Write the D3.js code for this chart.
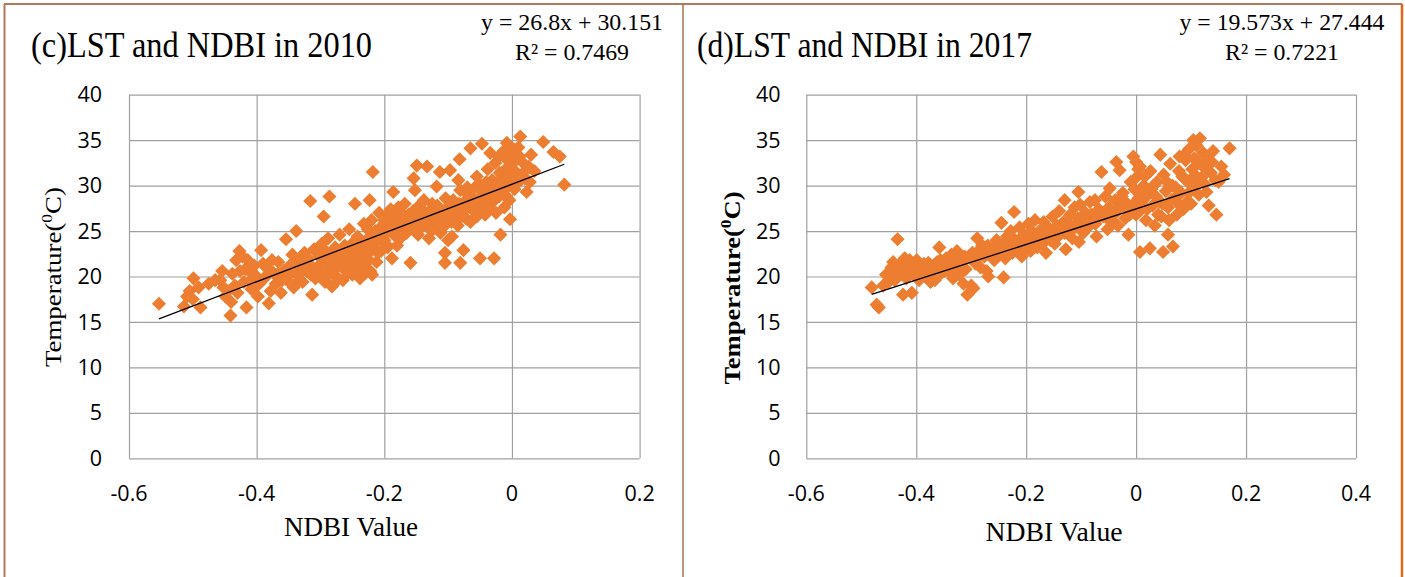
<!DOCTYPE html>
<html>
<head>
<meta charset="utf-8">
<script src="https://cdn.jsdelivr.net/npm/d3@7"></script>
<style>
  body { margin: 0; background: #fff; }
  svg { display: block; }
  .tick-label { font-family: "Open Sans", sans-serif; font-size: 21.5px; fill: #000; }
  .serif { font-family: "Liberation Serif", "Times New Roman", serif; fill: #000; }
</style>
</head>
<body>
<script>
// NDBI (x) and LST (y) pairs
const points2010 = [
  [-0.553,17.0],[-0.514,16.7],[-0.509,17.8],[-0.499,19.8],[-0.491,18.8],[-0.488,16.6],[-0.5,17.5],[-0.505,18.4],
  [-0.475,19.2],[-0.465,19.6],[-0.457,19.6],[-0.449,17.8],[-0.441,15.7],[-0.445,18.4],[-0.44,17.2],[-0.438,20.3],
  [-0.432,21.8],[-0.427,22.8],[-0.422,22.2],[-0.418,20.8],[-0.416,16.6],[-0.412,19.4],[-0.408,18.6],[-0.404,21.2],
  [-0.4,20.0],[-0.398,17.8],[-0.393,22.9],[-0.388,19.8],[-0.385,21.0],[-0.381,17.05],[-0.378,18.4],[-0.374,20.4],
  [-0.37,19.2],[-0.366,21.6],[-0.362,18.2],[-0.358,20.6],[-0.354,24.1],[-0.352,19.6],[-0.348,21.2],[-0.344,22.4],
  [-0.342,18.8],[-0.338,25.0],[-0.336,20.2],[-0.332,21.8],[-0.328,19.4],[-0.325,22.6],[-0.322,20.6],[-0.318,21.4],
  [-0.316,28.3],[-0.313,18.0],[-0.31,23.0],[-0.308,19.8],[-0.305,21.0],[-0.302,22.2],[-0.3,20.4],[-0.298,23.6],
  [-0.295,26.6],[-0.293,19.4],[-0.29,21.6],[-0.288,24.2],[-0.286,28.8],[-0.284,20.8],[-0.282,18.9],[-0.28,22.4],
  [-0.277,23.2],[-0.275,20.0],[-0.272,21.2],[-0.27,24.6],[-0.268,22.0],[-0.265,19.6],[-0.262,23.4],[-0.26,20.8],
  [-0.258,21.8],[-0.255,25.2],[-0.252,22.6],[-0.25,20.2],[-0.248,23.8],[-0.246,28.0],[-0.244,21.4],[-0.242,24.4],
  [-0.24,22.2],[-0.238,19.8],[-0.235,23.0],[-0.232,25.8],[-0.23,21.0],[-0.228,24.0],[-0.225,22.6],[-0.223,28.4],
  [-0.222,20.6],[-0.22,26.2],[-0.219,20.2],[-0.218,31.5],[-0.216,23.6],[-0.214,25.0],[-0.212,21.6],[-0.21,24.6],
  [-0.208,27.0],[-0.205,22.8],[-0.202,25.6],[-0.2,24.0],[-0.198,26.6],[-0.195,23.2],[-0.192,25.2],[-0.19,27.4],
  [-0.188,22.0],[-0.186,29.3],[-0.185,24.6],[-0.183,26.0],[-0.18,25.0],[-0.178,27.6],[-0.175,24.2],[-0.172,26.4],
  [-0.17,25.6],[-0.168,28.0],[-0.165,24.8],[-0.162,26.8],[-0.159,21.5],[-0.158,25.8],[-0.155,27.2],[-0.154,30.8],
  [-0.152,29.5],[-0.15,26.2],[-0.149,32.2],[-0.147,24.6],[-0.145,27.8],[-0.142,25.4],[-0.14,26.6],[-0.138,28.4],
  [-0.135,25.8],[-0.133,32.1],[-0.132,27.0],[-0.13,24.2],[-0.128,26.4],[-0.125,28.0],[-0.122,25.6],[-0.12,27.4],
  [-0.118,29.9],[-0.116,26.2],[-0.113,31.5],[-0.112,24.8],[-0.11,27.2],[-0.108,25.4],[-0.105,22.6],[-0.105,21.5],
  [-0.104,28.6],[-0.102,26.6],[-0.1,24.0],[-0.098,27.8],[-0.097,31.7],[-0.095,26.0],[-0.094,24.4],[-0.092,28.4],
  [-0.09,26.8],[-0.088,27.4],[-0.085,25.6],[-0.084,30.6],[-0.082,32.9],[-0.081,29.5],[-0.081,21.5],[-0.078,27.0],
  [-0.076,22.9],[-0.075,28.2],[-0.072,26.4],[-0.07,27.8],[-0.068,29.0],[-0.065,34.1],[-0.065,26.0],[-0.062,28.6],
  [-0.06,27.2],[-0.058,29.8],[-0.055,31.0],[-0.055,26.6],[-0.052,28.0],[-0.05,30.1],[-0.05,22.0],[-0.048,27.4],
  [-0.047,34.6],[-0.045,29.2],[-0.042,26.8],[-0.04,28.6],[-0.038,31.8],[-0.036,27.6],[-0.034,33.6],[-0.032,29.8],
  [-0.03,28.2],[-0.028,22.0],[-0.026,32.5],[-0.025,27.0],[-0.022,30.4],[-0.02,28.8],[-0.018,24.6],[-0.016,31.2],
  [-0.014,29.4],[-0.012,27.6],[-0.01,33.0],[-0.008,34.7],[-0.006,30.0],[-0.004,28.4],[-0.003,26.3],[0.0,33.6],
  [0.002,31.8],[0.004,29.6],[0.007,31.4],[0.01,34.2],[0.013,35.4],[0.016,32.6],[0.02,30.8],[0.023,29.3],
  [0.026,32.1],[0.03,33.4],[0.035,31.6],[0.049,34.8],[0.065,33.7],[0.075,33.2],[0.082,30.1],
  [-0.426,20.6],[-0.42,19.4],[-0.414,21.8],[-0.406,20.2],[-0.396,19.2],[-0.39,21.4],[-0.383,20.2],[-0.376,21.8],
  [-0.368,20.2],[-0.36,19.6],[-0.346,20.4],[-0.34,21.2],[-0.334,19.6],[-0.327,20.8],[-0.32,22.0],[-0.315,20.2],
  [-0.306,22.6],[-0.299,21.2],[-0.292,22.8],[-0.287,20.2],[-0.281,21.8],[-0.276,19.4],[-0.271,22.8],[-0.266,21.0],
  [-0.261,22.2],[-0.256,20.4],[-0.251,21.6],[-0.247,22.4],[-0.243,20.6],[-0.239,23.4],[-0.236,21.6],[-0.233,22.4],
  [-0.229,20.4],[-0.226,23.6],[-0.224,21.8],[-0.221,22.8],[-0.217,24.6],[-0.213,23.0],[-0.206,25.4],[-0.2,26.2],
  [-0.196,24.8],[-0.191,26.0],[-0.187,25.4],[-0.182,26.8],[-0.177,25.8],[-0.173,27.0],[-0.167,26.2],[-0.163,25.2],
  [-0.157,26.6],[-0.153,25.4],[-0.146,26.0],[-0.141,27.4],[-0.137,26.4],[-0.131,25.6],[-0.127,27.2],[-0.121,26.6],
  [-0.117,27.8],[-0.111,26.0],[-0.107,27.0],[-0.099,26.8],[-0.093,27.6],[-0.089,26.2],[-0.083,28.0],[-0.079,26.6],
  [-0.074,27.4],[-0.069,28.4],[-0.064,27.6],[-0.059,28.2],[-0.054,27.8],[-0.049,28.8],[-0.044,27.8],[-0.039,29.6],
  [-0.035,28.8],[-0.031,30.6],[-0.027,28.6],[-0.023,29.6],[-0.019,31.4],[-0.015,30.4],[-0.011,29.0],[-0.007,31.2],
  [-0.002,32.4],[0.001,30.6],[0.006,32.8],[0.012,33.2],[0.018,31.4],[-0.013,33.8],[-0.021,33.2],[0.003,34.0],
  [-0.452,18.8],[-0.434,19.0],[-0.43,18.2],[-0.454,20.6],[-0.31,20.6],[-0.296,20.0],[-0.262,21.6],[-0.254,23.0],
  [-0.234,20.8],[-0.226,25.2],[-0.21,22.6],[-0.198,23.6],[-0.18,23.4],[-0.144,26.8],[-0.126,25.0],[-0.07,29.8],
  [-0.04,30.4],[-0.01,31.8],[0.008,30.2],[0.028,30.4]
];

const points2017 = [
  [-0.481,18.8],[-0.472,16.9],[-0.468,16.6],[-0.46,19.0],[-0.455,20.2],[-0.45,19.4],[-0.445,21.0],[-0.439,19.6],
  [-0.434,24.1],[-0.43,20.6],[-0.426,21.6],[-0.424,18.0],[-0.421,22.0],[-0.418,19.8],[-0.414,20.8],[-0.41,21.4],
  [-0.408,18.2],[-0.404,20.2],[-0.4,21.0],[-0.399,21.8],[-0.395,19.6],[-0.39,20.6],[-0.386,21.4],[-0.382,20.0],
  [-0.378,21.5],[-0.374,19.4],[-0.37,20.8],[-0.366,19.6],[-0.362,21.6],[-0.358,23.2],[-0.354,20.4],[-0.35,21.2],
  [-0.346,22.0],[-0.342,20.6],[-0.338,21.8],[-0.336,22.4],[-0.333,19.8],[-0.33,21.1],[-0.326,22.8],[-0.322,20.2],
  [-0.318,21.6],[-0.314,19.2],[-0.31,20.8],[-0.307,18.0],[-0.304,22.2],[-0.3,19.0],[-0.296,18.7],[-0.292,21.4],
  [-0.289,24.2],[-0.287,22.6],[-0.283,21.0],[-0.28,23.4],[-0.276,22.2],[-0.272,20.6],[-0.269,20.0],[-0.266,23.1],
  [-0.262,22.8],[-0.258,21.8],[-0.254,24.0],[-0.25,22.4],[-0.247,23.2],[-0.245,25.9],[-0.241,19.9],[-0.238,22.0],
  [-0.235,24.4],[-0.232,23.0],[-0.228,25.0],[-0.225,22.6],[-0.222,27.1],[-0.22,24.0],[-0.216,23.4],[-0.212,25.4],
  [-0.208,22.2],[-0.204,24.6],[-0.2,23.8],[-0.196,25.8],[-0.192,22.8],[-0.188,24.4],[-0.184,26.2],[-0.18,23.2],
  [-0.176,25.0],[-0.172,24.2],[-0.168,26.0],[-0.164,22.6],[-0.16,25.4],[-0.156,24.0],[-0.152,26.6],[-0.148,23.6],
  [-0.144,25.6],[-0.14,27.2],[-0.136,24.8],[-0.132,26.0],[-0.13,28.4],[-0.128,23.0],[-0.124,25.2],[-0.12,26.8],
  [-0.116,24.2],[-0.112,27.6],[-0.108,25.6],[-0.105,29.3],[-0.104,23.8],[-0.102,27.9],[-0.1,26.2],[-0.096,24.8],
  [-0.092,27.0],[-0.088,25.4],[-0.084,28.2],[-0.08,26.0],[-0.075,28.4],[-0.072,24.4],[-0.068,27.4],[-0.063,31.5],
  [-0.06,26.6],[-0.056,28.8],[-0.052,25.2],[-0.048,29.7],[-0.045,27.2],[-0.042,26.0],[-0.038,28.4],[-0.036,32.6],
  [-0.033,25.6],[-0.03,31.7],[-0.028,27.8],[-0.024,29.2],[-0.02,26.4],[-0.016,28.0],[-0.014,24.6],[-0.01,30.4],
  [-0.008,27.2],[-0.005,33.2],[-0.003,29.6],[0.0,26.8],[0.002,31.0],[0.004,28.6],[0.007,32.1],[0.007,22.7],
  [0.01,27.4],[0.014,30.0],[0.018,26.2],[0.022,29.0],[0.025,23.1],[0.026,31.6],[0.03,27.8],[0.034,25.6],
  [0.038,30.4],[0.042,28.2],[0.044,33.4],[0.046,26.6],[0.049,22.7],[0.05,31.2],[0.054,29.4],[0.058,24.6],
  [0.058,27.6],[0.062,32.4],[0.066,30.0],[0.067,23.3],[0.07,28.6],[0.074,26.8],[0.078,31.6],[0.079,33.2],
  [0.082,29.2],[0.086,27.4],[0.09,32.8],[0.094,30.4],[0.098,30.6],[0.1,28.0],[0.104,35.0],[0.106,33.0],
  [0.11,31.0],[0.114,29.0],[0.116,35.2],[0.12,32.2],[0.124,30.2],[0.128,33.2],[0.128,29.3],[0.132,27.8],
  [0.136,31.4],[0.14,33.8],[0.146,26.8],[0.15,30.4],[0.155,32.1],[0.16,31.2],[0.17,34.1],
  [-0.448,20.4],[-0.442,21.6],[-0.436,20.0],[-0.428,21.0],[-0.42,20.4],[-0.412,21.8],[-0.402,20.6],[-0.392,21.2],
  [-0.384,20.4],[-0.376,20.6],[-0.368,21.2],[-0.356,21.8],[-0.348,20.6],[-0.34,21.4],[-0.328,21.8],[-0.32,21.0],
  [-0.312,22.2],[-0.298,22.6],[-0.29,22.0],[-0.284,23.0],[-0.278,22.4],[-0.27,23.4],[-0.264,22.2],[-0.256,23.2],
  [-0.248,22.8],[-0.24,23.6],[-0.233,22.4],[-0.226,24.0],[-0.218,23.2],[-0.21,24.2],[-0.202,22.8],[-0.194,24.0],
  [-0.186,23.4],[-0.178,24.6],[-0.17,23.6],[-0.162,24.8],[-0.154,24.4],[-0.146,25.0],[-0.138,25.6],[-0.13,24.8],
  [-0.122,25.8],[-0.114,25.4],[-0.106,26.4],[-0.098,25.4],[-0.09,26.4],[-0.082,26.8],[-0.074,25.8],[-0.066,27.0],
  [-0.058,26.8],[-0.05,27.6],[-0.04,26.8],[-0.032,27.4],[-0.022,27.8],[-0.012,26.8],[-0.004,28.0],[0.006,29.4],
  [0.012,28.4],[0.02,27.4],[0.028,29.6],[0.036,28.8],[0.04,26.8],[0.048,28.0],[0.056,30.4],[0.064,28.4],
  [0.072,29.8],[0.08,27.8],[0.088,30.8],[0.096,29.2],[0.102,31.8],[0.108,30.0],[0.112,32.6],[0.118,30.8],
  [0.122,33.6],[0.13,31.6],[0.138,32.6],[0.144,30.6],[0.096,34.0],[0.11,34.4],[0.088,33.4],[0.0,32.6],[0.004,31.8],
  [-0.214,23.6],[-0.19,25.0],[-0.166,24.0],[-0.142,24.4],[-0.118,25.0],[-0.094,25.8],[-0.07,26.4],[-0.046,26.0],
  [-0.026,28.8],[0.016,31.0],[0.032,30.0],[0.06,26.2],[0.084,31.0],[0.092,28.2]
];

const xTicks2010 = [-0.6, -0.4, -0.2, 0, 0.2];
const xTicks2017 = [-0.6, -0.4, -0.2, 0, 0.2, 0.4];
const yTicks = [0, 5, 10, 15, 20, 25, 30, 35, 40];

const titles = ["(c)LST and NDBI in 2010", "(d)LST and NDBI in 2017"];
const equations = ["y = 26.8x + 30.151", "y = 19.573x + 27.444"];
const rSquared = ["R² = 0.7469", "R² = 0.7221"];
const slopes = [26.8, 19.573];
const intercepts = [30.151, 27.444];

const W = 1405, H = 577;

const svg = d3.select("body").append("svg")
    .attr("width", W)
    .attr("height", H);

svg.append("rect").attr("width", W).attr("height", H).attr("fill", "#fff");

// frame round the two panels
svg.append("line").attr("x1", 4).attr("y1", 4).attr("x2", 1402).attr("y2", 4)
    .attr("stroke", "#b07a5c").attr("stroke-width", 2);
svg.append("line").attr("x1", 4.5).attr("y1", 4).attr("x2", 4.5).attr("y2", H)
    .attr("stroke", "#b07a5c").attr("stroke-width", 2);
svg.append("line").attr("x1", 683).attr("y1", 4).attr("x2", 683).attr("y2", H)
    .attr("stroke", "#b0704c").attr("stroke-width", 1.5);
svg.append("line").attr("x1", 1402).attr("y1", 4).attr("x2", 1402).attr("y2", H)
    .attr("stroke", "#e0681c").attr("stroke-width", 2.5);

function drawPanel(p) {
  const xScale = d3.scaleLinear().domain([p.xTicks[0], p.xTicks[p.xTicks.length - 1]]).range([p.left, p.right]);
  const yScale = d3.scaleLinear().domain([0, 40]).range([458.3, 94.7]);
  const g = svg.append("g");

  // gridlines
  g.append("g")
    .attr("transform", "translate(0,458.3)")
    .call(d3.axisBottom(xScale).tickValues(p.xTicks).tickSize(-(458.3 - 94.7)).tickFormat(""))
    .call(s => s.select(".domain").remove())
    .call(s => s.selectAll("line").attr("stroke", "#a0a0a0").attr("stroke-width", 1.2));
  g.append("g")
    .attr("transform", "translate(" + p.left + ",0)")
    .call(d3.axisLeft(yScale).tickValues(yTicks).tickSize(-(p.right - p.left)).tickFormat(""))
    .call(s => s.select(".domain").remove())
    .call(s => s.selectAll("line").attr("stroke", "#a0a0a0").attr("stroke-width", 1.2));

  // tick labels (plain hyphen for negatives, as in the source)
  g.selectAll(".ylab").data(yTicks).enter().append("text")
    .attr("class", "tick-label")
    .attr("x", p.yLabelX)
    .attr("y", d => yScale(d) + 7.6)
    .attr("text-anchor", "end")
    .text(d => d);
  g.selectAll(".xlab").data(p.xTicks).enter().append("text")
    .attr("class", "tick-label")
    .attr("x", d => xScale(d))
    .attr("y", 501)
    .attr("text-anchor", "middle")
    .text(d => String(+d.toFixed(1)));

  // points
  const diamond = d3.symbol().type(d3.symbolSquare).size(100);
  g.selectAll(".dot").data(p.points).enter().append("path")
    .attr("d", diamond)
    .attr("fill", "#ed7d31")
    .attr("transform", d => "translate(" + xScale(d[0]) + "," + yScale(d[1]) + ") rotate(45)");

  // linear trendline over the data range
  const ext = d3.extent(p.points, d => d[0]);
  const line = d3.line().x(d => xScale(d)).y(d => yScale(p.slope * d + p.intercept));
  g.append("path").datum(ext)
    .attr("d", line)
    .attr("fill", "none")
    .attr("stroke", "#000")
    .attr("stroke-width", 1.3);

  // titles and labels
  g.append("text").attr("class", "serif")
    .attr("x", p.titleX).attr("y", 57)
    .attr("font-size", 35)
    .attr("textLength", p.titleLen).attr("lengthAdjust", "spacingAndGlyphs")
    .text(p.title);
  g.append("text").attr("class", "serif")
    .attr("x", p.eqX).attr("y", 29.5)
    .attr("font-size", 22.5).attr("text-anchor", "middle")
    .attr("textLength", p.eqLen).attr("lengthAdjust", "spacingAndGlyphs")
    .text(p.equation);
  g.append("text").attr("class", "serif")
    .attr("x", p.eqX).attr("y", 59.5)
    .attr("font-size", 22.5).attr("text-anchor", "middle")
    .attr("textLength", 114).attr("lengthAdjust", "spacingAndGlyphs")
    .text(p.r2);

  g.append("text").attr("class", "serif")
    .attr("x", p.xTitleX).attr("y", p.xTitleY)
    .attr("font-size", 27).attr("text-anchor", "middle")
    .attr("textLength", p.xTitleLen).attr("lengthAdjust", "spacingAndGlyphs")
    .text("NDBI Value");

  const yt = g.append("text").attr("class", "serif")
    .attr("transform", "translate(" + p.yTitleX + "," + p.yTitleY + ") rotate(-90)")
    .attr("font-size", 23).attr("text-anchor", "middle")
    .attr("font-weight", p.boldY ? "bold" : "normal")
    .attr("textLength", p.yTitleLen).attr("lengthAdjust", "spacingAndGlyphs");
  yt.append("tspan").text("Temperature(");
  yt.append("tspan").attr("font-size", 15).attr("dy", -9).text("0");
  yt.append("tspan").attr("dy", 9).text("C)");
}

drawPanel({
  points: points2010, xTicks: xTicks2010, left: 129, right: 639.6, yLabelX: 102,
  slope: slopes[0], intercept: intercepts[0],
  title: titles[0], titleX: 31, titleLen: 341,
  equation: equations[0], r2: rSquared[0], eqX: 572, eqLen: 182,
  xTitleX: 351, xTitleY: 536, xTitleLen: 134,
  yTitleX: 61, yTitleY: 277, yTitleLen: 180, boldY: false
});

drawPanel({
  points: points2017, xTicks: xTicks2017, left: 806.3, right: 1356, yLabelX: 780.5,
  slope: slopes[1], intercept: intercepts[1],
  title: titles[1], titleX: 697, titleLen: 335,
  equation: equations[1], r2: rSquared[1], eqX: 1282, eqLen: 205,
  xTitleX: 1054, xTitleY: 541, xTitleLen: 137,
  yTitleX: 740, yTitleY: 288, yTitleLen: 193, boldY: true
});
</script>
</body>
</html>
